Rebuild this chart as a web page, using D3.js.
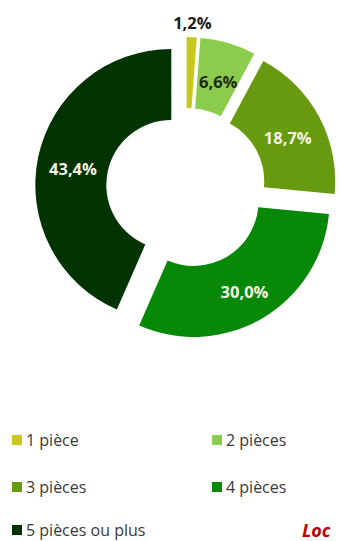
<!DOCTYPE html>
<html><head><meta charset="utf-8">
<script src="https://cdn.jsdelivr.net/npm/d3@7"></script>
<style>html,body{margin:0;padding:0;background:#fff;overflow:hidden}</style>
</head><body>
<svg id="c" width="342" height="541"></svg>
<script>
const categories = ["1 pièce", "2 pièces", "3 pièces", "4 pièces", "5 pièces ou plus"];
const values = [1.2, 6.6, 18.7, 30.0, 43.4];
const valueLabels = ["1,2%", "6,6%", "18,7%", "30,0%", "43,4%"];
const colors = ["#c9c81c", "#8ccc4c", "#679a0e", "#078907", "#003300"];
const labelColors = ["#1c1c1c", "#1c2a10", "#f4f4e4", "#f4f4e4", "#f4f4e4"];

const svg = d3.select("#c");
const cx = 186, cy = 188, R = 136, r = 65, explode = 15;

const pie = d3.pie().sort(null).value(d => d)(values);
const arc = d3.arc().innerRadius(r).outerRadius(R);
const g = svg.append("g").attr("transform", `translate(${cx},${cy})`);

function offset(d, dist) {
  const a = (d.startAngle + d.endAngle) / 2;
  return [Math.sin(a) * dist, -Math.cos(a) * dist];
}

g.selectAll("path").data(pie).join("path")
  .attr("d", arc)
  .attr("fill", (d, i) => colors[i])
  .attr("transform", d => { const o = offset(d, explode); return `translate(${o[0]},${o[1]})`; });

const font = "'Open Sans', 'DejaVu Sans', sans-serif";
g.selectAll("text.lbl").data(pie).join("text")
  .attr("class", "lbl")
  .attr("x", (d, i) => offset(d, i === 0 ? 170 : explode + (R + r) / 2)[0])
  .attr("y", (d, i) => offset(d, i === 0 ? 170 : explode + (R + r) / 2)[1] + 4)
  .attr("text-anchor", "middle")
  .attr("dominant-baseline", "central")
  .attr("font-family", font)
  .attr("font-weight", "bold")
  .attr("font-size", 16.5)
  .attr("fill", (d, i) => labelColors[i])
  .text((d, i) => valueLabels[i]);

// legend
const legX = [12, 212], legY = [440, 487, 530];
const leg = svg.append("g");
categories.forEach((c, i) => {
  const x = legX[i % 2], y = legY[Math.floor(i / 2)];
  leg.append("rect").attr("x", x).attr("y", y - 5).attr("width", 10).attr("height", 10).attr("fill", colors[i]);
  leg.append("text").attr("x", x + 14).attr("y", y).attr("dominant-baseline", "central")
    .attr("font-family", font).attr("font-size", 16).attr("fill", "#3a3a3a").text(c);
});
svg.append("text").attr("x", 302).attr("y", 530).attr("dominant-baseline", "central")
  .attr("font-family", font).attr("font-size", 18).attr("font-weight", "bold").attr("font-style", "italic")
  .attr("fill", "#c00000").text("Loc");
</script>
</body></html>
